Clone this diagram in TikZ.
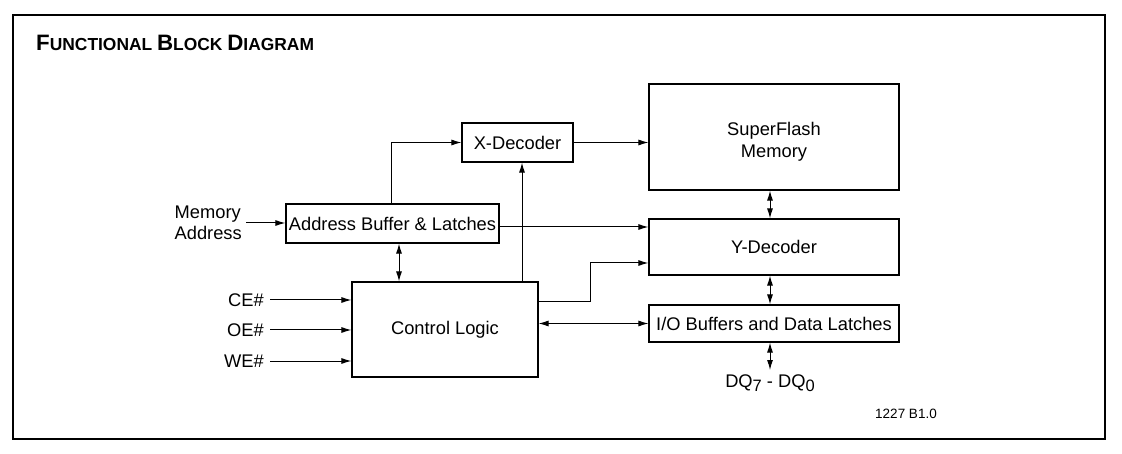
\documentclass[tikz,border=0pt]{standalone}
\usepackage{fontspec}
\setmainfont{Liberation Sans}
\usetikzlibrary{arrows.meta}
\tikzset{
  blk/.style={draw, line width=1.1pt, inner sep=0pt, align=center, font=\fontsize{18.3}{22}\selectfont},
  lbl/.style={inner sep=0pt, font=\fontsize{18.3}{21}\selectfont},
  arr/.style={line width=1pt, -{Latex[length=10pt,width=6pt]}},
  darr/.style={line width=1pt, {Latex[length=10pt,width=6pt]}-{Latex[length=10pt,width=6pt]}},
}
\begin{document}
\begin{tikzpicture}[x=1pt,y=-1pt]
\useasboundingbox (0,0) rectangle (1122,454);
\draw[line width=1.1pt] (13,15) rectangle (1105,439);
\node[anchor=base west, inner sep=0pt, font=\bfseries] (title) at (36,51)
 {\fontsize{22.3}{24}\selectfont F\fontsize{17.4}{19}\selectfont UNCTIONAL \fontsize{22.3}{24}\selectfont B\fontsize{17.4}{19}\selectfont LOCK \fontsize{22.3}{24}\selectfont D\fontsize{17.4}{19}\selectfont IAGRAM};

% blocks
\node[blk, minimum width=111pt, minimum height=39pt] (xdec) at (517.5,142.5) {X-Decoder};
\node[blk, minimum width=213pt, minimum height=39pt] (abuf) at (392.5,223.5) {Address Buffer \& Latches};
\node[blk, minimum width=186pt, minimum height=95pt] (ctrl) at (445,329.5) {Control Logic};
\node[blk, minimum width=250pt, minimum height=106pt,
      label={[lbl, align=center, font=\fontsize{18.3}{22}\selectfont, yshift=-5pt]center:SuperFlash\\Memory}] (sfm) at (774,137) {};
\node[blk, minimum width=250pt, minimum height=56pt] (ydec) at (774,247) {Y-Decoder};
\node[blk, minimum width=250pt, minimum height=37pt] (io) at (774,323.5) {I/O Buffers and Data Latches};

% labels
\node[lbl, anchor=east, align=left] (mem) at (242,223) {Memory\\Address};
\node[lbl, anchor=east] (ce) at (264,300) {CE\#};
\node[lbl, anchor=east] (oe) at (264,330) {OE\#};
\node[lbl, anchor=east] (we) at (264,361) {WE\#};
\node[lbl] (dq) at (770,383) {DQ\raisebox{-4pt}{\fontsize{16.5}{18}\selectfont 7} - DQ\raisebox{-4pt}{\fontsize{16.5}{18}\selectfont 0}};
\coordinate (dqtop) at (770,370);
\node[inner sep=0pt, font=\fontsize{13.5}{15}\selectfont] (ver) at (906,414) {1227 B1.0};

% connectors
\draw[arr] ([xshift=4pt]mem.east) -- (mem.east -| abuf.west);
\draw[arr] ([xshift=6pt]ce.east) -- (ce.east -| ctrl.west);
\draw[arr] ([xshift=6pt]oe.east) -- (oe.east -| ctrl.west);
\draw[arr] ([xshift=6pt]we.east) -- (we.east -| ctrl.west);
\draw[arr] ([xshift=-1.5pt]abuf.north) |- (xdec.west);
\draw[arr] ([xshift=77pt]ctrl.north) -- ([xshift=4.5pt]xdec.south);
\draw[darr] ([xshift=6.5pt]abuf.south) -- ([xshift=6.5pt]abuf.south |- ctrl.north);
\draw[arr] ([yshift=-3.5pt]abuf.east) -- ([yshift=-3.5pt]abuf.east -| ydec.west);
\draw[arr] ([yshift=27.5pt]ctrl.east) -- ++(52,0) |- ([yshift=-16pt]ydec.west);
\draw[darr] (io.west -| ctrl.east) -- (io.west);
\draw[arr] (xdec.east) -- (xdec.east -| sfm.west);
\draw[darr] ([xshift=-4pt]sfm.south) -- ([xshift=-4pt]ydec.north);
\draw[darr] ([xshift=-4pt]ydec.south) -- ([xshift=-4pt]io.north);
\draw[darr] ([xshift=-4pt]io.south) -- (dqtop);
\end{tikzpicture}
\end{document}
